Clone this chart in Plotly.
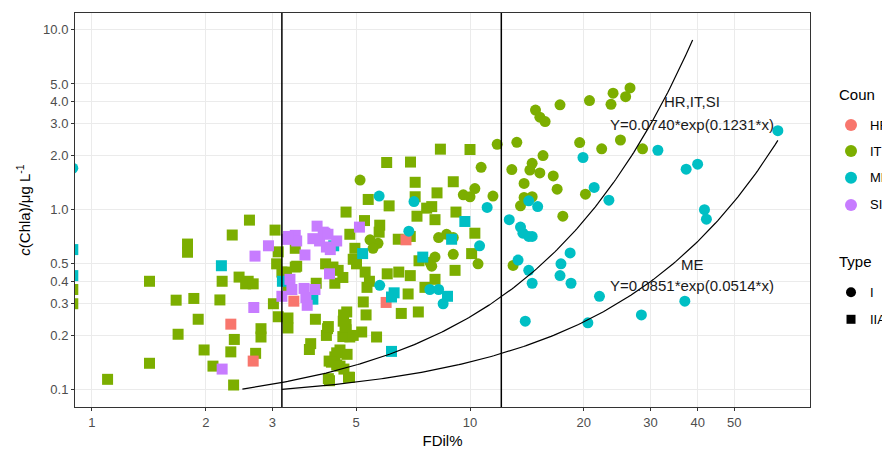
import numpy as np
import plotly.graph_objects as go

# ---------------- data (FDil %, Chla µg/L) ----------------
IT_I_x = [5.12, 5.71, 5.44, 5.54, 9.6, 10.0, 10.3, 8.26, 8.67, 9.03, 9.03, 8.08, 7.83, 7.92,
          11.5, 10.5, 13.0, 10.7, 11.8, 13.3, 12.9, 14.6, 14.4, 15.3, 15.6, 16.6, 13.9, 17.0,
          13.9, 14.6, 13.6, 17.6, 20.2, 14.9, 15.3, 15.8, 17.3, 20.7, 23.9, 23.6, 25.8, 26.5,
          19.5, 22.3, 25.0, 28.6]
IT_I_y = [1.46, 0.65, 0.68, 0.61, 1.21, 1.18, 1.31, 0.70, 0.73, 0.70, 0.565, 0.545, 0.51, 0.485,
          1.19, 0.50, 0.49, 1.72, 2.31, 2.37, 1.67, 1.81, 1.66, 1.60, 2.00, 1.54, 1.40, 1.30,
          1.17, 1.18, 1.05, 0.92, 1.22, 3.58, 3.27, 3.09, 3.83, 4.04, 4.44, 3.85, 4.25, 4.75,
          2.36, 2.18, 2.44, 2.18]

IT_IIA_x = [0.89, 0.89, 1.79, 1.79, 1.42, 1.67, 1.86, 2.18, 1.91, 1.69, 1.98, 1.42, 2.09, 1.10,
            2.61, 2.35, 3.05, 2.21, 2.45, 2.59, 2.55, 2.67, 3.08, 3.11, 3.18, 3.02, 2.38, 2.33,
            2.80, 2.80, 2.71, 2.37, 3.11, 3.30, 3.30, 3.45, 3.45, 3.31, 3.90, 4.20, 4.17, 3.79,
            3.76, 4.24, 4.39, 4.25, 4.15, 4.34, 4.39, 3.92, 8.35, 10.0, 6.02, 6.96, 7.16, 9.03,
            8.18, 5.38, 6.11, 7.16, 7.68, 7.92, 7.24, 8.08, 9.18, 4.70, 5.26, 5.77, 5.75, 4.81,
            6.46, 6.95, 4.96, 4.91, 5.01, 7.33, 9.13, 4.48, 4.61, 5.28, 5.34, 5.42, 6.04, 6.48,
            6.95, 8.08, 7.60, 6.86, 5.22, 6.58, 7.30, 5.31, 5.66, 4.72, 4.62, 4.70, 4.70, 5.17,
            4.81, 4.61, 4.53, 4.73, 4.44, 4.64, 4.80, 4.22, 4.63, 4.67, 4.91, 4.44, 4.30, 4.53,
            4.22, 4.77, 10.3, 10.1, 3.27, 3.48]
IT_IIA_y = [0.36, 0.30, 0.644, 0.58, 0.40, 0.314, 0.321, 0.315, 0.246, 0.203, 0.166, 0.14, 0.135, 0.114,
            0.875, 0.723, 0.77, 0.40, 0.422, 0.40, 0.387, 0.387, 0.50, 0.583, 0.45, 0.30, 0.19, 0.162,
            0.218, 0.196, 0.159, 0.106, 0.254, 0.25, 0.22, 0.48, 0.61, 0.37, 0.246, 0.218, 0.20, 0.18,
            0.167, 0.144, 0.152, 0.112, 0.50, 0.48, 0.39, 0.39, 2.17, 2.16, 1.83, 1.84, 1.42, 1.43,
            1.24, 1.14, 1.05, 1.18, 1.02, 1.04, 0.92, 0.88, 0.97, 0.97, 0.87, 0.82, 0.75, 0.73,
            0.685, 0.71, 0.61, 0.53, 0.50, 0.52, 0.46, 0.46, 0.42, 0.45, 0.37, 0.40, 0.44, 0.45,
            0.43, 0.41, 0.37, 0.34, 0.307, 0.265, 0.27, 0.26, 0.196, 0.27, 0.24, 0.23, 0.215, 0.209,
            0.196, 0.197, 0.166, 0.157, 0.137, 0.13, 0.117, 0.224, 0.26, 0.224, 0.20, 0.16, 0.142, 0.135,
            0.115, 0.117, 0.74, 0.57, 0.45, 0.485]

ME_I_x = [0.89, 5.75, 7.11, 6.89, 5.77, 7.83, 8.26, 8.49, 11.1, 10.6, 12.7, 13.6, 13.8, 14.3,
          14.6, 14.3, 15.1, 13.4, 18.4, 17.4, 17.3, 18.5, 14.3, 14.6, 22.0, 14.0, 20.5, 19.9,
          21.3, 23.3, 31.4, 37.3, 40.0, 41.7, 42.2, 37.0, 28.4, 65.2]
ME_I_y = [1.70, 1.19, 1.11, 0.76, 0.38, 0.36, 0.36, 0.30, 1.03, 0.63, 0.88, 0.80, 0.74, 0.71,
          0.71, 1.12, 1.04, 0.525, 0.575, 0.50, 0.43, 0.39, 0.46, 0.39, 0.33, 0.24, 0.235, 1.95,
          1.33, 1.13, 2.14, 1.68, 1.79, 1.00, 0.885, 0.31, 0.26, 2.75]

ME_IIA_x = [0.89, 0.89, 2.20, 3.19, 3.84, 4.36, 5.20, 7.50, 8.94, 8.72, 6.30, 6.20, 6.20, 9.69]
ME_IIA_y = [0.60, 0.43, 0.488, 0.40, 0.318, 0.63, 0.57, 0.545, 0.685, 0.33, 0.345, 0.327, 0.163, 0.86]

HR_IIA_x = [2.33, 2.67, 3.42, 6.77, 6.00]
HR_IIA_y = [0.231, 0.144, 0.31, 0.68, 0.305]

SI_IIA_x = [2.93, 2.70, 2.68, 3.18, 2.21, 3.34, 3.38, 3.27, 3.45, 3.48, 3.31, 3.94, 4.09, 3.84,
            4.00, 4.17, 4.13, 4.21, 3.66, 4.25, 3.64, 3.68, 3.71, 3.89, 4.44, 5.10, 4.27]
SI_IIA_y = [0.63, 0.552, 0.286, 0.33, 0.13, 0.41, 0.36, 0.684, 0.72, 0.67, 0.71, 0.81, 0.75, 0.69,
            0.67, 0.62, 0.74, 0.73, 0.56, 0.44, 0.365, 0.325, 0.294, 0.36, 0.67, 0.80, 0.60]

# thresholds (vertical lines) and fitted curves given in chart text
vlines = [3.18, 12.1]
fit_groups = ["HR,IT,SI", "ME"]
fit_a = [0.0740, 0.0851]
fit_b = [0.1231, 0.0514]
fit_xmin = [2.5, 3.18]
fit_xmax = [38.8, 65.2]

coun_names = ["HR", "IT", "ME", "SI"]
coun_colors = ["#F8766D", "#7CAE00", "#00BFC4", "#C77CFF"]
type_names = ["I", "IIA"]
type_symbols = ["circle", "square"]

x_ticks = [1, 2, 3, 5, 10, 20, 30, 40, 50]
x_ticktext = ["1", "2", "3", "5", "10", "20", "30", "40", "50"]
y_ticks = [0.1, 0.2, 0.3, 0.4, 0.5, 1, 2, 3, 4, 5, 10]
y_ticktext = ["0.1", "0.2", "0.3", "0.4", "0.5", "1.0", "2.0", "3.0", "4.0", "5.0", "10.0"]

FONT = "Liberation Sans, Arial, sans-serif"
col = dict(zip(coun_names, coun_colors))
sym = dict(zip(type_names, type_symbols))
MS = 11

fig = go.Figure()

series = [
    ("IT", "IIA", IT_IIA_x, IT_IIA_y),
    ("IT", "I", IT_I_x, IT_I_y),
    ("HR", "IIA", HR_IIA_x, HR_IIA_y),
    ("ME", "IIA", ME_IIA_x, ME_IIA_y),
    ("ME", "I", ME_I_x, ME_I_y),
    ("SI", "IIA", SI_IIA_x, SI_IIA_y),
]
for c, t, xs, ys in series:
    fig.add_trace(go.Scatter(
        x=xs, y=ys, mode="markers", showlegend=False, name=f"{c} ({t})",
        hovertemplate="FDil=%{x}%<br>Chla=%{y}<extra></extra>",
        marker=dict(color=col[c], symbol=sym[t], size=MS, line=dict(width=0)),
    ))

# fitted curves
for a, b, x0, x1 in zip(fit_a, fit_b, fit_xmin, fit_xmax):
    xx = np.geomspace(x0, x1, 200)
    fig.add_trace(go.Scatter(x=xx, y=a * np.exp(b * xx), mode="lines", showlegend=False,
                             line=dict(color="black", width=1.2), hoverinfo="skip"))

for v in vlines:
    fig.add_shape(type="line", xref="x", yref="paper", x0=v, x1=v,
                  y0=0, y1=1, line=dict(color="black", width=1.5))

# equations
eq_pos_x = [38.7, 38.7]
eq_pos_y = [[3.97, 2.99], [0.497, 0.38]]
for g, a, b, px, (py1, py2) in zip(fit_groups, fit_a, fit_b, eq_pos_x, eq_pos_y):
    fig.add_annotation(x=np.log10(px), y=np.log10(py1), text=g, showarrow=False,
                       font=dict(family=FONT, size=15, color="#1a1a1a"))
    fig.add_annotation(x=np.log10(px), y=np.log10(py2),
                       text=f"Y={a:.4f}*exp({b:.4f}*x)", showarrow=False,
                       font=dict(family=FONT, size=15, color="#1a1a1a"))

# ---- legend (ggplot-style, drawn in the right margin) ----
LEG_KEY_X = 1.0558    # paper x of key symbols
LEG_TXT_X = 1.0785    # paper x of labels
LEG_TITLE_X = 1.0365
coun_title_y, coun_key_y = 0.7919, [0.7157, 0.6497, 0.582, 0.5127]
type_title_y, type_key_y = 0.3688, [0.2911, 0.2226]


def key(shape_type, yk, color, half):
    fig.add_shape(type=shape_type, xref="paper", yref="paper",
                  xsizemode="pixel", ysizemode="pixel", xanchor=LEG_KEY_X, yanchor=yk,
                  x0=-half, x1=half, y0=-half, y1=half,
                  fillcolor=color, line=dict(width=0))


def label(text, y, size=13):
    fig.add_annotation(xref="paper", yref="paper", x=LEG_TXT_X if size == 13 else LEG_TITLE_X,
                       y=y, xanchor="left", yanchor="middle", text=text, showarrow=False,
                       font=dict(family=FONT, size=size, color="black"))


label("Coun", coun_title_y, 15)
for name, color, yk in zip(coun_names, coun_colors, coun_key_y):
    key("circle", yk, color, 6)
    label(name, yk)
label("Type", type_title_y, 15)
for name, s, yk in zip(type_names, type_symbols, type_key_y):
    key("circle" if s == "circle" else "rect", yk, "black", 5 if s == "circle" else 4.5)
    label(name, yk)

axis_common = dict(
    type="log", showline=True, mirror=True, linecolor="#333333", linewidth=1,
    showgrid=True, gridcolor="#EBEBEB", gridwidth=1, zeroline=False,
    ticks="outside", ticklen=3, tickcolor="#333333",
    tickfont=dict(family=FONT, size=13, color="#4D4D4D"),
)

# page body has an 8px margin: figure sized/offset so the panel lands at x 75-810, y 13-407
fig.update_layout(
    width=882, height=441,
    margin=dict(l=67, r=80, t=5, b=42, autoexpand=False),
    paper_bgcolor="white", plot_bgcolor="white",
    font=dict(family=FONT), showlegend=False,
    xaxis=dict(**axis_common, range=[np.log10(0.902), np.log10(79.3)],
               tickvals=x_ticks, ticktext=x_ticktext,
               title=dict(text="FDil%", font=dict(family=FONT, size=15, color="black"), standoff=6)),
    yaxis=dict(**axis_common, range=[np.log10(0.080), np.log10(12.4)],
               tickvals=y_ticks, ticktext=y_ticktext,
               title=dict(text="<i>c</i>(Chla)/μg L<sup>-1</sup>",
                          font=dict(family=FONT, size=15, color="black"), standoff=8)),
)

fig.write_html("out.html")
